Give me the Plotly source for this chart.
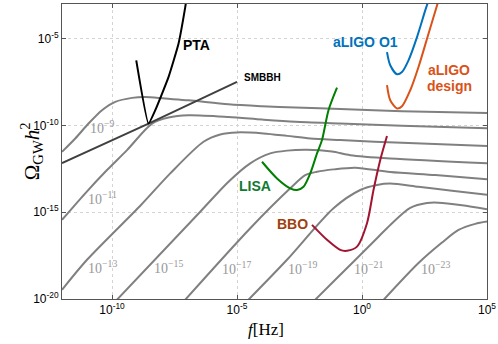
import numpy as np
import plotly.graph_objects as go

# ── data: log10(f/Hz) and log10(Omega_GW h^2) ──

# inflationary spectra (grey), one per tensor amplitude label
GREY_LF = [
    [-12, -11.47, -10.94, -10.4, -9.87, -9.2, -8.67, -7.87, -6.94, -5.34, -4.0, -2.67, -0.87, 1.6, 5],
    [-12, -11.07, -10.2, -9.4, -8.4, -7.74, -6.94, -5.34, -4.0, -2.67, -0.87, 1.6, 5],
    [-12, -11, -8.84, -7.67, -6.34, -5.67, -5.0, -3.94, -3.0, -2.07, -0.87, 1.6, 5],
    [-9.8, -6.47, -5.34, -4.47, -3.67, -3.0, -2.2, -1.2, -0.47, 1.13, 5],
    [-7.07, -4.47, -2.87, -2.27, -1.8, -1.14, -0.27, 1.13, 2.93, 5],
    [-4.54, -3.0, -1.14, -0.07, 0.6, 1.13, 2.26, 3.6, 5],
    [-1.87, -1.07, 0.6, 1.13, 1.93, 2.6, 3.06, 4.0, 5],
    [0.87, 2.26, 3.2, 3.86, 4.53, 5],
]
GREY_LO = [
    [-11.52, -10.75, -9.89, -9.12, -8.64, -8.41, -8.36, -8.45, -8.55, -8.78, -8.89, -8.97, -9.05, -9.18, -9.28],
    [-15.44, -13.91, -12.57, -11.42, -9.89, -9.54, -9.41, -9.51, -9.66, -9.79, -9.89, -10.02, -10.16],
    [-19.47, -17.74, -14.58, -12.76, -10.94, -10.52, -10.4, -10.46, -10.6, -10.75, -10.84, -11.0, -11.19],
    [-20.04, -14.97, -13.24, -12.18, -11.61, -11.45, -11.4, -11.5, -11.71, -11.9, -12.17],
    [-20.04, -15.92, -13.62, -12.86, -12.67, -12.53, -12.43, -12.68, -12.86, -13.1],
    [-20.04, -17.74, -14.77, -13.72, -13.43, -13.35, -13.53, -13.76, -14.0],
    [-20.04, -18.89, -16.5, -15.73, -14.75, -14.47, -14.45, -14.6, -14.83],
    [-20.04, -17.93, -16.75, -16.02, -15.67, -15.54],
]
GREY_TEXT = ["10<sup>−9</sup>", "10<sup>−11</sup>", "10<sup>−13</sup>", "10<sup>−15</sup>",
             "10<sup>−17</sup>", "10<sup>−19</sup>", "10<sup>−21</sup>", "10<sup>−23</sup>"]
GREY_TEXT_LF = [-10.4, -10.4, -10.4, -7.74, -5.04, -2.4, 0.26, 2.93]
GREY_TEXT_LO = [-10.08, -14.2, -18.13, -18.16, -18.22, -18.22, -18.22, -18.22]

SMBBH_LF = [-12, -8.54, -5.0]
SMBBH_LO = [-12.17, -9.89, -7.49]

PTA_LF = [-9.03, -8.54, -8.27, -7.74, -7.34, -7.07, -7.03]
PTA_LO = [-6.25, -9.89, -9.12, -7.21, -5.29, -3.18, -2.8]

LISA_LF = [-4.0, -3.4, -2.87, -2.6, -2.34, -2.07, -1.8, -1.6, -1.34, -1.0]
LISA_LO = [-12.09, -13.05, -13.62, -13.72, -13.53, -12.76, -11.61, -10.84, -9.12, -7.82]

BBO_LF = [-2.0, -1.4, -0.87, -0.6, -0.2, 0.2, 0.46, 0.73, 1.0]
BBO_LO = [-15.73, -16.59, -17.17, -17.22, -16.98, -15.63, -13.72, -11.99, -10.61]

O1_LF = [1.0, 1.13, 1.4, 1.6, 1.86, 2.2, 2.53, 2.66]
O1_LO = [-5.77, -6.53, -7.05, -6.92, -6.25, -4.91, -3.37, -2.8]

DESIGN_LF = [1.0, 1.13, 1.4, 1.6, 1.93, 2.26, 2.66, 3.06]
DESIGN_LO = [-7.68, -8.55, -9.02, -8.89, -7.97, -6.63, -4.71, -2.8]

X_TICKS = [1e-10, 1e-5, 1, 1e5]
X_TEXT = ["10<sup>-10</sup>", "10<sup>-5</sup>", "10<sup>0</sup>", "10<sup>5</sup>"]
Y_TICKS = [1e-20, 1e-15, 1e-10, 1e-5]
Y_TEXT = ["10<sup>-20</sup>", "10<sup>-15</sup>", "10<sup>-10</sup>", "10<sup>-5</sup>"]

SANS = "Liberation Sans, Arial, sans-serif"
SERIF = "Liberation Serif, Times New Roman, serif"


def p10(v):
    return 10.0 ** np.asarray(v, dtype=float)


fig = go.Figure()

for lf, lo in zip(GREY_LF, GREY_LO):
    fig.add_trace(go.Scatter(
        x=p10(lf), y=p10(lo), mode="lines",
        line=dict(color="#808080", width=2, shape="spline", smoothing=0.8),
        showlegend=False, hoverinfo="skip",
    ))

fig.add_trace(go.Scatter(x=p10(SMBBH_LF), y=p10(SMBBH_LO), mode="lines",
                         line=dict(color="#404040", width=2), showlegend=False))
fig.add_trace(go.Scatter(x=p10(PTA_LF), y=p10(PTA_LO), mode="lines",
                         line=dict(color="#000000", width=2, shape="spline", smoothing=0.4),
                         showlegend=False))
fig.add_trace(go.Scatter(x=p10(LISA_LF), y=p10(LISA_LO), mode="lines",
                         line=dict(color="#008000", width=2, shape="spline", smoothing=0.8),
                         showlegend=False))
fig.add_trace(go.Scatter(x=p10(BBO_LF), y=p10(BBO_LO), mode="lines",
                         line=dict(color="#A2142F", width=2, shape="spline", smoothing=0.8),
                         showlegend=False))
fig.add_trace(go.Scatter(x=p10(O1_LF), y=p10(O1_LO), mode="lines",
                         line=dict(color="#0072BD", width=2, shape="spline", smoothing=0.8),
                         showlegend=False))
fig.add_trace(go.Scatter(x=p10(DESIGN_LF), y=p10(DESIGN_LO), mode="lines",
                         line=dict(color="#D95319", width=2, shape="spline", smoothing=0.8),
                         showlegend=False))

# grey amplitude labels
for txt, lf, lo in zip(GREY_TEXT, GREY_TEXT_LF, GREY_TEXT_LO):
    fig.add_annotation(x=lf, y=lo, text=txt, showarrow=False,
                       font=dict(family=SERIF, size=14, color="#999999"))

# detector / source labels
LABELS = [
    ("PTA", -6.63, -5.39, "#000000", 14, "center"),
    ("SMBBH", -4.8, -7.24, "#000000", 10, "left"),
    ("aLIGO O1", 0.15, -5.2, "#0072BD", 14, "center"),
    ("aLIGO", 3.48, -6.78, "#D95319", 14, "center"),
    ("design", 3.48, -7.74, "#D95319", 14, "center"),
    ("LISA", -4.27, -13.49, "#107A2E", 14, "center"),
    ("BBO", -2.8, -15.67, "#A0410D", 14, "center"),
]
for txt, lf, lo, clr, sz, anc in LABELS:
    fig.add_annotation(x=lf, y=lo, text=f"<b>{txt}</b>", showarrow=False, xanchor=anc,
                       font=dict(family=SANS, size=sz, color=clr))

# axis titles
fig.add_annotation(xref="paper", yref="paper", x=-0.11, y=0.5, textangle=-90,
                   text="Ω<sub>GW</sub><i>h</i><sup>2</sup>", showarrow=False,
                   font=dict(family=SERIF, size=21, color="#000000"))
fig.add_annotation(xref="paper", yref="paper", x=0.48, y=-0.105, yanchor="middle",
                   text="<i>f</i>[Hz]", showarrow=False,
                   font=dict(family=SERIF, size=17, color="#000000"))

_AXIS = dict(
    type="log", showgrid=True, gridcolor="#D4D4D4", griddash="dot", gridwidth=1,
    zeroline=False, showline=True, linecolor="#555555", linewidth=1, mirror="ticks",
    ticks="inside", ticklen=4, tickcolor="#555555", automargin=False,
    tickfont=dict(family=SANS, size=12, color="#000000"),
)
fig.update_xaxes(**_AXIS, range=[-12, 5], tickvals=X_TICKS, ticktext=X_TEXT)
fig.update_yaxes(**_AXIS, range=[-20, -3], tickvals=Y_TICKS, ticktext=Y_TEXT)

fig.update_layout(
    width=498, height=344,
    margin=dict(l=62, r=11, t=4, b=45, autoexpand=False),
    paper_bgcolor="#FFFFFF", plot_bgcolor="#FFFFFF",
    showlegend=False,
)

# page body has a default 8px margin; drop it so the figure sits at the window origin
fig.write_html("out.html", config={"displayModeBar": False},
               post_script="document.body.style.margin='0';")
